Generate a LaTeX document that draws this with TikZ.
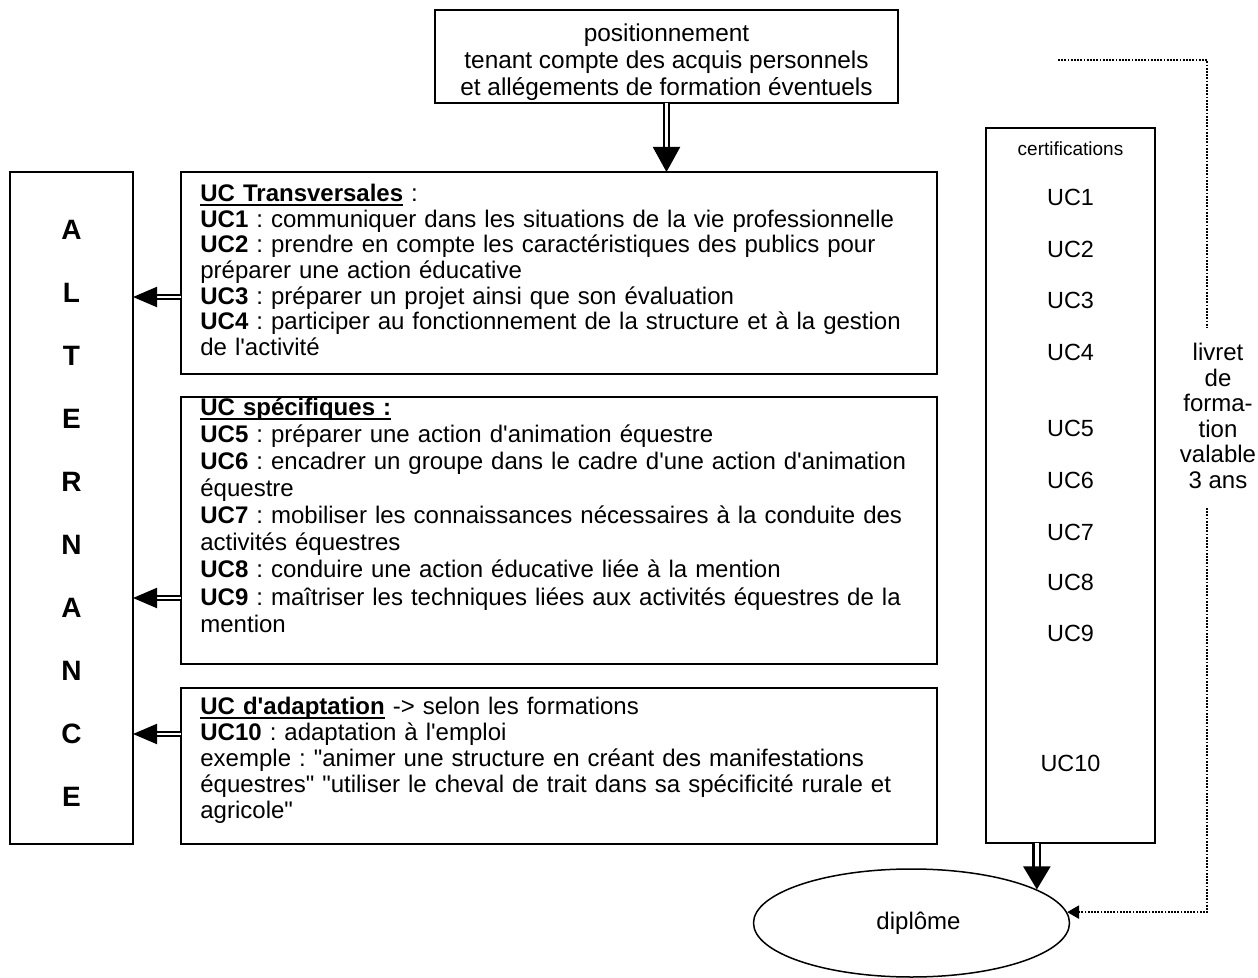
\documentclass[tikz,border=0pt]{standalone}
\usepackage{fontspec}
\setmainfont{Liberation Sans}
\usetikzlibrary{arrows.meta,shapes.geometric,calc}
\newsavebox\ulbox
\newcommand\myul[1]{\sbox\ulbox{#1}\leavevmode\rlap{\rule[-2.4pt]{\wd\ulbox}{1pt}}\usebox\ulbox}
\newcommand\fl{\rule{0pt}{12pt}}
\newcommand\ap{\textquotesingle}
\newcommand\qq{\textquotedbl}
\frenchspacing
\begin{document}
\begin{tikzpicture}[x=0.5pt,y=-0.5pt,
  box/.style={draw,line width=1pt,inner sep=0,outer sep=0},
  body/.style={anchor=north west,inner sep=0,text width=420pt,align=left},
  letter/.style={inner sep=0,font=\fontsize{14}{16}\selectfont\bfseries},
  cuc/.style={inner sep=0,font=\fontsize{11.7}{14}\selectfont},
  arrL/.style={double,line width=1pt,double distance=1pt,-{Triangle[length=12pt,width=10pt]}},
  arrT/.style={double,line width=1pt,double distance=1.6pt,-{Triangle[length=12.5pt,width=13.5pt]}},
  arrB/.style={double,line width=1.2pt,double distance=2pt,-{Triangle[length=11.5pt,width=13.5pt]}},
  dotl/.style={line width=1.2pt,dash pattern=on 0.9pt off 0.7pt},
  dotarr/.style={dotl,-{Triangle[length=6pt,width=6.5pt]}}
]
\useasboundingbox (0,0) rectangle (1258,978);

% top positioning box
\node[box,minimum width=231.5pt,minimum height=46.5pt] (pos) at (666.5,56.5) {};
\node[anchor=north,inner sep=0,align=center,font=\fontsize{12.2}{13.5}\selectfont] (postxt) at (666.5,17)
  {\fl positionnement\\tenant compte des acquis personnels\\et allégements de formation éventuels};

% ALTERNANCE box
\node[box,minimum width=61.5pt,minimum height=336pt] (alt) at (71.5,508) {};
\foreach \L [count=\i from 0] in {A,L,T,E,R,N,A,N,C,E}{
  \node[letter] (alt\i) at (71.5,{230+\i*62.94}) {\L};
}

% UC boxes
\node[box,minimum width=378pt,minimum height=101pt] (trans) at (559,273) {};
\node[box,minimum width=378pt,minimum height=133.5pt] (spec) at (559,530.5) {};
\node[box,minimum width=378pt,minimum height=78pt] (adapt) at (559,766) {};

\node[body,font=\fontsize{12}{12.83}\selectfont] (transtxt) at (200,177) {\fl\myul{\textbf{UC Transversales}} :\\
\textbf{UC1} : communiquer dans les situations de la vie professionnelle\\
\textbf{UC2} : prendre en compte les caractéristiques des publics pour\\
préparer une action éducative\\
\textbf{UC3} : préparer un projet ainsi que son évaluation\\
\textbf{UC4} : participer au fonctionnement de la structure et à la gestion\\
de l\ap activité};

\node[body,font=\fontsize{12}{13.55}\selectfont] (spectxt) at (200,391) {\fl\myul{\textbf{UC spécifiques :}}\\
\textbf{UC5} : préparer une action d\ap animation équestre\\
\textbf{UC6} : encadrer un groupe dans le cadre d\ap une action d\ap animation\\
équestre\\
\textbf{UC7} : mobiliser les connaissances nécessaires à la conduite des\\
activités équestres\\
\textbf{UC8} : conduire une action éducative liée à la mention\\
\textbf{UC9} : maîtriser les techniques liées aux activités équestres de la\\
mention};

\node[body,font=\fontsize{12}{13}\selectfont] (adapttxt) at (200,690) {\fl\myul{\textbf{UC d\ap adaptation}} -> selon les formations\\
\textbf{UC10} : adaptation à l\ap emploi\\
exemple : \qq animer une structure en créant des manifestations\\
équestres\qq{} \qq utiliser le cheval de trait dans sa spécificité rurale et\\
agricole\qq};

% certifications box
\node[box,minimum width=84.5pt,minimum height=357.5pt] (cert) at (1070.5,485.5) {};
\node[inner sep=0,font=\fontsize{9.5}{11}\selectfont] (certt) at (1070.5,148.5) {certifications};
\node[cuc] (c1) at (1070.5,197.5) {UC1};
\node[cuc] (c2) at (1070.5,249) {UC2};
\node[cuc] (c3) at (1070.5,300) {UC3};
\node[cuc] (c4) at (1070.5,352) {UC4};
\node[cuc] (c5) at (1070.5,428) {UC5};
\node[cuc] (c6) at (1070.5,480) {UC6};
\node[cuc] (c7) at (1070.5,532) {UC7};
\node[cuc] (c8) at (1070.5,582) {UC8};
\node[cuc] (c9) at (1070.5,633) {UC9};
\node[cuc] (c10) at (1070.5,763) {UC10};

% diploma
\node[ellipse,draw,line width=0.75pt,minimum width=158pt,minimum height=54pt,inner sep=0,font=\fontsize{12}{14}\selectfont] (dip) at (911.5,923) {\hspace*{7pt}diplôme};

% livret
\node[anchor=north,inner sep=0,align=center,font=\fontsize{12}{12.8}\selectfont] (livret) at (1218,336)
  {\fl livret\\de\\forma-\\tion\\valable\\3 ans};

% connectors
\draw[arrT] (pos.south) -- (pos.south |- trans.north);
\draw[arrL] ([yshift=-12pt]trans.west) -- ([yshift=-12pt]trans.west -| alt.east);
\draw[arrL] ([yshift=-33.75pt]spec.west) -- ([yshift=-33.75pt]spec.west -| alt.east);
\draw[arrL] ([yshift=16pt]adapt.west) -- ([yshift=16pt]adapt.west -| alt.east);
\draw[arrB] (cert.south -| dip.15) -- (dip.15);

\coordinate (dstart) at (1058,60);
\coordinate (dbreak1) at (1207,328);
\coordinate (dbreak2) at (1207,508);
\draw[dotl] (dstart) -| (dbreak1);
\draw[dotarr] (dbreak2) |- (dip.4);
\end{tikzpicture}
\end{document}
